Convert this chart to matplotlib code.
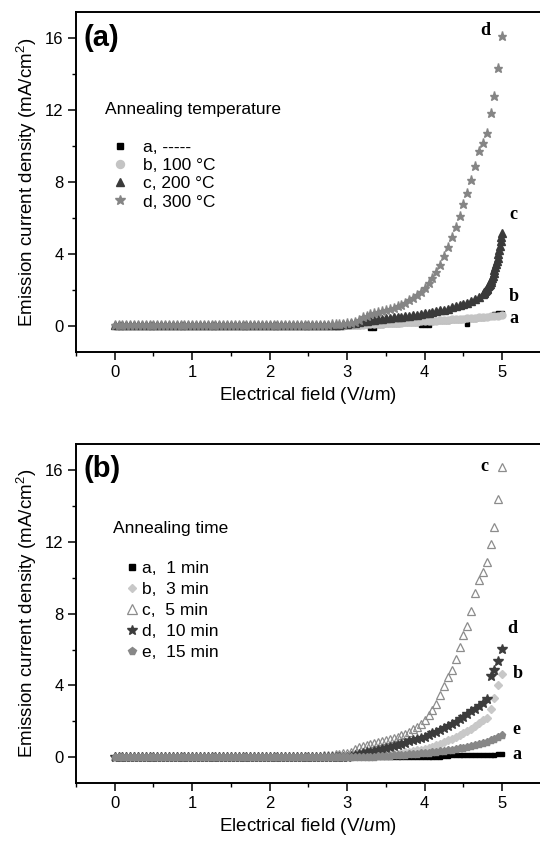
import matplotlib
matplotlib.use("Agg")
import matplotlib.pyplot as plt
from matplotlib.ticker import MultipleLocator

plt.rcParams['font.family'] = ['Liberation Sans', 'DejaVu Sans']
plt.rcParams['mathtext.fontset'] = 'custom'
plt.rcParams['mathtext.rm'] = 'Liberation Sans'
plt.rcParams['mathtext.it'] = 'Liberation Sans:italic'

# ---- data: electrical field (V/um) and emission current density (mA/cm2) ----
FIELD = [
    0.00, 0.05, 0.10, 0.15, 0.20, 0.25, 0.30, 0.35, 0.40, 0.45,
    0.50, 0.55, 0.60, 0.65, 0.70, 0.75, 0.80, 0.85, 0.90, 0.95,
    1.00, 1.05, 1.10, 1.15, 1.20, 1.25, 1.30, 1.35, 1.40, 1.45,
    1.50, 1.55, 1.60, 1.65, 1.70, 1.75, 1.80, 1.85, 1.90, 1.95,
    2.00, 2.05, 2.10, 2.15, 2.20, 2.25, 2.30, 2.35, 2.40, 2.45,
    2.50, 2.55, 2.60, 2.65, 2.70, 2.75, 2.80, 2.85, 2.90, 2.95,
    3.00, 3.05, 3.10, 3.15, 3.20, 3.25, 3.30, 3.35, 3.40, 3.45,
    3.50, 3.55, 3.60, 3.65, 3.70, 3.75, 3.80, 3.85, 3.90, 3.95,
    4.00, 4.05, 4.10, 4.15, 4.20, 4.25, 4.30, 4.35, 4.40, 4.45,
    4.50, 4.55, 4.60, 4.65, 4.70, 4.75, 4.80, 4.85, 4.90, 4.95,
    5.00,
]
# the 200 C sample was swept finer near the end
FIELD_FINE = FIELD[:96] + [
    4.76, 4.77, 4.78, 4.79, 4.80, 4.81, 4.82, 4.83, 4.84, 4.85,
    4.86, 4.87, 4.88, 4.89, 4.90, 4.91, 4.92, 4.93, 4.94, 4.95,
    4.96, 4.97, 4.98, 4.99, 5.00,
]

# (a) annealing temperature
TEMP_A = [
    0.00, 0.00, 0.00, 0.00, 0.00, 0.00, 0.00, 0.00, 0.00, 0.00,
    0.00, 0.00, 0.00, 0.00, 0.00, 0.00, 0.00, 0.00, 0.00, 0.00,
    0.00, 0.00, 0.00, 0.00, 0.00, 0.00, 0.00, 0.00, 0.00, 0.00,
    0.00, 0.00, 0.00, 0.00, 0.00, 0.00, 0.00, 0.00, 0.00, 0.00,
    0.00, 0.00, 0.00, 0.00, 0.00, 0.00, 0.00, 0.00, 0.00, 0.00,
    0.00, 0.00, 0.00, 0.00, 0.00, 0.00, 0.00, 0.00, 0.00, 0.00,
    0.00, 0.00, 0.01, 0.02, 0.03, 0.04, -0.12, -0.10, 0.07, 0.08,
    0.09, 0.10, 0.11, 0.12, 0.14, 0.15, 0.16, 0.17, 0.19, 0.05,
    0.04, 0.06, 0.24, 0.25, 0.27, 0.28, 0.30, 0.31, 0.33, 0.34,
    0.36, 0.10, 0.39, 0.41, 0.43, 0.45, 0.50, 0.58, 0.64, 0.70,
    0.74,
]
TEMP_B = [
    0.02, 0.02, 0.02, 0.02, 0.02, 0.02, 0.02, 0.02, 0.02, 0.02,
    0.02, 0.02, 0.02, 0.02, 0.02, 0.02, 0.02, 0.02, 0.02, 0.02,
    0.02, 0.02, 0.02, 0.02, 0.02, 0.02, 0.02, 0.02, 0.02, 0.02,
    0.02, 0.02, 0.02, 0.02, 0.02, 0.02, 0.02, 0.02, 0.02, 0.02,
    0.02, 0.02, 0.02, 0.02, 0.02, 0.02, 0.02, 0.02, 0.02, 0.02,
    0.02, 0.02, 0.02, 0.02, 0.02, 0.02, 0.02, 0.02, 0.02, 0.02,
    0.04, 0.05, 0.06, 0.07, 0.08, 0.09, 0.10, 0.11, 0.12, 0.13,
    0.14, 0.15, 0.16, 0.17, 0.19, 0.20, 0.21, 0.22, 0.24, 0.25,
    0.26, 0.28, 0.29, 0.30, 0.32, 0.33, 0.35, 0.36, 0.38, 0.39,
    0.41, 0.43, 0.44, 0.46, 0.48, 0.50, 0.52, 0.54, 0.56, 0.58,
    0.60,
]
TEMP_C = [
    0.05, 0.05, 0.05, 0.05, 0.05, 0.05, 0.05, 0.05, 0.05, 0.05,
    0.05, 0.05, 0.05, 0.05, 0.05, 0.05, 0.05, 0.05, 0.05, 0.05,
    0.05, 0.05, 0.05, 0.05, 0.05, 0.05, 0.05, 0.05, 0.05, 0.05,
    0.05, 0.05, 0.05, 0.05, 0.05, 0.05, 0.05, 0.05, 0.05, 0.05,
    0.05, 0.05, 0.05, 0.05, 0.05, 0.05, 0.05, 0.05, 0.05, 0.05,
    0.05, 0.05, 0.05, 0.05, 0.05, 0.05, 0.05,
    0.07, 0.08, 0.10, 0.12, 0.15, 0.18, 0.21, 0.25, 0.28, 0.32,
    0.35, 0.38, 0.40, 0.43, 0.45, 0.48, 0.50, 0.52, 0.55, 0.57,
    0.60, 0.63, 0.66, 0.70, 0.73, 0.77, 0.81, 0.86, 0.91, 0.97,
    1.03, 1.10, 1.16, 1.22, 1.30, 1.40, 1.50, 1.62, 1.80,
    1.85, 1.90, 1.95, 2.00, 2.05, 2.12, 2.20, 2.28, 2.36, 2.45,
    2.55, 2.67, 2.80, 2.95, 3.10, 3.25, 3.42, 3.60, 3.80, 4.00,
    4.20, 4.45, 4.70, 4.95, 5.15,
]
TEMP_D = [
    0.05, 0.05, 0.05, 0.05, 0.05, 0.05, 0.05, 0.05, 0.05, 0.05,
    0.05, 0.05, 0.05, 0.05, 0.05, 0.05, 0.05, 0.05, 0.05, 0.05,
    0.05, 0.05, 0.05, 0.05, 0.05, 0.05, 0.05, 0.05, 0.05, 0.05,
    0.05, 0.05, 0.05, 0.05, 0.05, 0.05, 0.05, 0.05, 0.05, 0.05,
    0.05, 0.05, 0.05, 0.05, 0.05, 0.05, 0.05, 0.05, 0.05, 0.05,
    0.05,
    0.06, 0.06, 0.07, 0.07, 0.08, 0.09, 0.10, 0.11, 0.12, 0.14,
    0.16, 0.20, 0.35, 0.50, 0.58, 0.65, 0.71, 0.78, 0.85, 0.90,
    0.96, 1.02, 1.09, 1.19, 1.30, 1.42, 1.55, 1.70, 1.87, 2.10,
    2.38, 2.65, 3.00, 3.40, 3.90, 4.40, 4.95, 5.50, 6.10, 6.80,
    7.40, 8.10, 8.90, 9.70, 10.15, 10.75, 11.85, 12.80, 14.35, 16.10,
]

# (b) annealing time
TIME_A = [
    0.00, 0.00, 0.00, 0.00, 0.00, 0.00, 0.00, 0.00, 0.00, 0.00,
    0.00, 0.00, 0.00, 0.00, 0.00, 0.00, 0.00, 0.00, 0.00, 0.00,
    0.00, 0.00, 0.00, 0.00, 0.00, 0.00, 0.00, 0.00, 0.00, 0.00,
    0.00, 0.00, 0.00, 0.00, 0.00, 0.00, 0.00, 0.00, 0.00, 0.00,
    0.00, 0.00, 0.00, 0.00, 0.00, 0.00, 0.00, 0.00, 0.00, 0.00,
    0.00, 0.00, 0.00, 0.00, 0.00, 0.00, 0.00, 0.00, 0.00, 0.00,
    0.00, 0.00, 0.00, 0.00, 0.00, 0.00, 0.00, 0.00, 0.00, 0.00,
    0.00, 0.00, 0.00, 0.00, 0.00, 0.00, 0.00, 0.00, 0.00, 0.00,
    0.00, 0.00, 0.00, 0.00, 0.00,
    0.08, 0.09, 0.10, 0.10, 0.11, 0.11, 0.12, 0.12, 0.13, 0.13,
    0.14, 0.14, 0.15, 0.15, 0.16, 0.16,
]
TIME_B = [
    0.02, 0.02, 0.02, 0.02, 0.02, 0.02, 0.02, 0.02, 0.02, 0.02,
    0.02, 0.02, 0.02, 0.02, 0.02, 0.02, 0.02, 0.02, 0.02, 0.02,
    0.02, 0.02, 0.02, 0.02, 0.02, 0.02, 0.02, 0.02, 0.02, 0.02,
    0.02, 0.02, 0.02, 0.02, 0.02, 0.02, 0.02, 0.02, 0.02, 0.02,
    0.02, 0.02, 0.02, 0.02, 0.02, 0.02, 0.02, 0.02, 0.02, 0.02,
    0.02, 0.02, 0.02, 0.02, 0.02, 0.02, 0.02, 0.02, 0.02, 0.02,
    0.02,
    0.04, 0.05, 0.06, 0.07, 0.08, 0.09, 0.10, 0.11, 0.12, 0.14,
    0.16, 0.18, 0.20, 0.24, 0.27, 0.30, 0.34, 0.38, 0.42, 0.47,
    0.53, 0.60, 0.68, 0.76, 0.85, 0.94, 1.03, 1.13, 1.24, 1.35,
    1.47, 1.60, 1.74, 1.90, 2.05, 2.20, 2.70, 3.30, 4.00, 4.65,
]
TIME_C = [
    0.05, 0.05, 0.05, 0.05, 0.05, 0.05, 0.05, 0.05, 0.05, 0.05,
    0.05, 0.05, 0.05, 0.05, 0.05, 0.05, 0.05, 0.05, 0.05, 0.05,
    0.05, 0.05, 0.05, 0.05, 0.05, 0.05, 0.05, 0.05, 0.05, 0.05,
    0.05, 0.05, 0.05, 0.05, 0.05, 0.05, 0.05, 0.05, 0.05, 0.05,
    0.05, 0.05, 0.05, 0.05, 0.05, 0.05, 0.05, 0.05, 0.05, 0.05,
    0.05,
    0.07, 0.08, 0.09, 0.10, 0.12, 0.14, 0.16, 0.19, 0.22, 0.26,
    0.32, 0.45, 0.55, 0.63, 0.69, 0.74, 0.80, 0.85, 0.90, 0.95,
    1.01, 1.08, 1.15, 1.23, 1.32, 1.43, 1.56, 1.70, 1.85, 2.10,
    2.38, 2.65, 2.95, 3.48, 3.95, 4.45, 4.88, 5.50, 6.15, 6.83,
    7.33, 8.15, 9.15, 9.85, 10.30, 10.90, 11.90, 12.85, 14.37, 16.15,
]
TIME_D = [
    0.03, 0.03, 0.03, 0.03, 0.03, 0.03, 0.03, 0.03, 0.03, 0.03,
    0.03, 0.03, 0.03, 0.03, 0.03, 0.03, 0.03, 0.03, 0.03, 0.03,
    0.03, 0.03, 0.03, 0.03, 0.03, 0.03, 0.03, 0.03, 0.03, 0.03,
    0.03, 0.03, 0.03, 0.03, 0.03, 0.03, 0.03, 0.03, 0.03, 0.03,
    0.03, 0.03, 0.03, 0.03, 0.03, 0.03, 0.03, 0.03, 0.03, 0.03,
    0.03, 0.03, 0.03, 0.03, 0.03, 0.03, 0.03, 0.03, 0.03, 0.03,
    0.03,
    0.08, 0.12, 0.18, 0.23, 0.28, 0.32, 0.37, 0.41, 0.45, 0.50,
    0.56, 0.62, 0.68, 0.75, 0.82, 0.89, 0.95, 1.00, 1.07, 1.15,
    1.24, 1.33, 1.43, 1.54, 1.65, 1.76, 1.87, 1.99, 2.12, 2.25,
    2.40, 2.55, 2.70, 2.86, 3.03, 3.24, 4.50, 4.85, 5.35, 6.05,
]
TIME_E = [
    0.00, 0.00, 0.00, 0.00, 0.00, 0.00, 0.00, 0.00, 0.00, 0.00,
    0.00, 0.00, 0.00, 0.00, 0.00, 0.00, 0.00, 0.00, 0.00, 0.00,
    0.00, 0.00, 0.00, 0.00, 0.00, 0.00, 0.00, 0.00, 0.00, 0.00,
    0.00, 0.00, 0.00, 0.00, 0.00, 0.00, 0.00, 0.00, 0.00, 0.00,
    0.00, 0.00, 0.00, 0.00, 0.00, 0.00, 0.00, 0.00, 0.00, 0.00,
    0.00, 0.00, 0.00, 0.00, 0.00, 0.00, 0.00, 0.00, 0.00, 0.00,
    0.00, 0.00, 0.00, 0.00, 0.00,
    0.02, 0.03, 0.04, 0.05, 0.06, 0.08, 0.09, 0.11, 0.12, 0.14,
    0.15, 0.17, 0.18, 0.20, 0.22, 0.24, 0.26, 0.28, 0.30, 0.33,
    0.36, 0.39, 0.42, 0.45, 0.49, 0.53, 0.57, 0.61, 0.66, 0.72,
    0.79, 0.87, 0.95, 1.04, 1.14, 1.25,
]

TEMP_LABELS = ['a, -----', 'b, 100 \u00b0C', 'c, 200 \u00b0C', 'd, 300 \u00b0C']
TIME_LABELS = ['a,  1 min', 'b,  3 min', 'c,  5 min', 'd,  10 min', 'e,  15 min']


def style_axis(ax):
    ax.set_xlim(-0.5, 5.5)
    ax.set_ylim(-1.45, 17.45)
    ax.xaxis.set_major_locator(MultipleLocator(1))
    ax.xaxis.set_minor_locator(MultipleLocator(0.5))
    ax.yaxis.set_major_locator(MultipleLocator(4))
    ax.yaxis.set_minor_locator(MultipleLocator(2))
    ax.tick_params(which='major', direction='out', length=6, width=1.1,
                   labelsize=12, pad=3)
    ax.tick_params(which='minor', direction='out', length=3, width=1.0)
    ax.spines['right'].set_visible(False)
    for s in ['left', 'bottom', 'top']:
        ax.spines[s].set_linewidth(1.4)
    ax.set_xlabel('Electrical field (V/$\\mathit{u}$m)', fontsize=13.5, labelpad=4)
    ax.set_ylabel('Emission current density (mA/cm$^2$)', fontsize=13.5, labelpad=4)


def tag(ax, x, y, s):
    ax.text(x, y, s, fontsize=13, fontweight='bold', family='Liberation Serif',
            ha='left', va='center')


fig = plt.figure(figsize=(5.4, 8.42), dpi=100)

# ---------- (a) annealing temperature ----------
ax1 = fig.add_axes([0.1407, 0.5819, 0.8611, 0.4038])
h1 = []
h1 += ax1.plot(FIELD, TEMP_A, ls='none', marker='s', ms=3.4, mfc='black', mec='black', label=TEMP_LABELS[0])
h1 += ax1.plot(FIELD, TEMP_B, ls='none', marker='o', ms=5, mfc='#c4c4c4', mec='#c4c4c4', label=TEMP_LABELS[1])
h1 += ax1.plot(FIELD_FINE, TEMP_C, ls='none', marker='^', ms=5.5, mfc='#3a3a3a', mec='#3a3a3a', label=TEMP_LABELS[2])
h1 += ax1.plot(FIELD, TEMP_D, ls='none', marker='*', ms=6.8, mfc='#858585', mec='#858585', label=TEMP_LABELS[3])
style_axis(ax1)
ax1.text(0.062, 0.714, 'Annealing temperature', transform=ax1.transAxes,
         fontsize=12.5, va='center', ha='left')
ax1.legend(handles=h1, loc='upper left', bbox_to_anchor=(0.076, 0.625),
           frameon=False, fontsize=12.5, handlelength=1.0, handletextpad=0.82,
           labelspacing=0.18, borderpad=0, borderaxespad=0, markerscale=1.15)
ax1.text(0.017, 0.925, '(a)', transform=ax1.transAxes, fontsize=21,
         fontweight='bold', ha='left', va='center')
tag(ax1, 4.72, 16.45, 'd')
tag(ax1, 5.09, 6.17, 'c')
tag(ax1, 5.08, 1.63, 'b')
tag(ax1, 5.09, 0.43, 'a')

# ---------- (b) annealing time ----------
ax2 = fig.add_axes([0.1407, 0.0697, 0.8611, 0.4030])
h2 = []
h2 += ax2.plot(FIELD, TIME_A, ls='none', marker='s', ms=3.4, mfc='black', mec='black', label=TIME_LABELS[0])
h2 += ax2.plot(FIELD, TIME_B, ls='none', marker='D', ms=4, mfc='#c8c8c8', mec='#c8c8c8', label=TIME_LABELS[1])
h2 += ax2.plot(FIELD, TIME_C, ls='none', marker='^', ms=6, mfc='none', mec='#8c8c8c', mew=0.9, label=TIME_LABELS[2])
h2 += ax2.plot(FIELD, TIME_D, ls='none', marker='*', ms=7, mfc='#3c3c3c', mec='#3c3c3c', label=TIME_LABELS[3])
h2 += ax2.plot(FIELD, TIME_E, ls='none', marker='p', ms=5.2, mfc='#878787', mec='#878787', label=TIME_LABELS[4])
style_axis(ax2)
ax2.text(0.0796, 0.752, 'Annealing time', transform=ax2.transAxes,
         fontsize=12.5, va='center', ha='left')
ax2.legend(handles=h2, loc='upper left', bbox_to_anchor=(0.1017, 0.655),
           frameon=False, fontsize=12.5, handlelength=1.0, handletextpad=0.1,
           labelspacing=0.33, borderpad=0, borderaxespad=0, markerscale=1.1)
ax2.text(0.017, 0.925, '(b)', transform=ax2.transAxes, fontsize=21,
         fontweight='bold', ha='left', va='center')
tag(ax2, 4.72, 16.2, 'c')
tag(ax2, 5.06, 7.15, 'd')
tag(ax2, 5.14, 4.65, 'b')
tag(ax2, 5.13, 1.53, 'e')
tag(ax2, 5.13, 0.13, 'a')

fig.savefig('out.png', dpi=100)
